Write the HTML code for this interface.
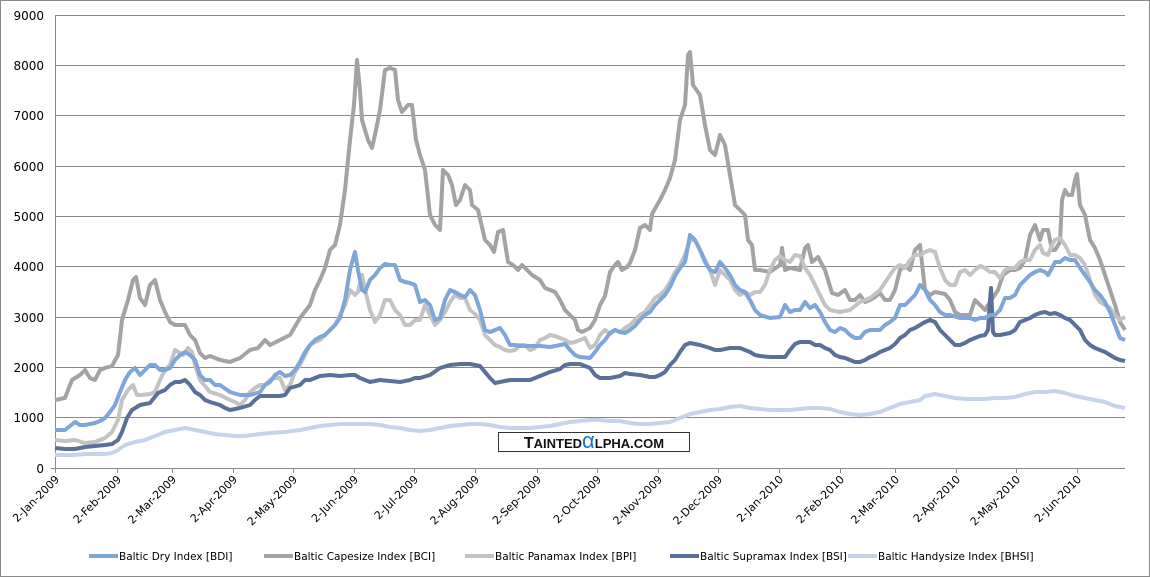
<!DOCTYPE html>
<html><head><meta charset="utf-8"><style>
body{margin:0;background:#fff;}
svg{display:block;font-family:"DejaVu Sans","Liberation Sans",sans-serif;}
</style></head><body>
<svg width="1150" height="577" viewBox="0 0 1150 577">
<rect x="0.5" y="0.5" width="1149" height="576" fill="#fff" stroke="#888"/>
<g stroke="#888" stroke-width="1">
<line x1="55" y1="417.5" x2="1125" y2="417.5"/><line x1="55" y1="367.5" x2="1125" y2="367.5"/>
<line x1="55" y1="317.5" x2="1125" y2="317.5"/><line x1="55" y1="266.5" x2="1125" y2="266.5"/>
<line x1="55" y1="216.5" x2="1125" y2="216.5"/><line x1="55" y1="166.5" x2="1125" y2="166.5"/>
<line x1="55" y1="115.5" x2="1125" y2="115.5"/><line x1="55" y1="65.5" x2="1125" y2="65.5"/>
<line x1="55" y1="15.5" x2="1125" y2="15.5"/>
<line x1="55.5" y1="15" x2="55.5" y2="468"/>
<line x1="51" y1="468.5" x2="1125" y2="468.5"/>
</g>
<g stroke="#888">
<path d="M55.5 468v5M117.5 468v5M172.5 468v5M233.5 468v5M293.5 468v5M354.5 468v5M414.5 468v5M475.5 468v5M537.5 468v5M597.5 468v5M658.5 468v5M718.5 468v5M779.5 468v5M840.5 468v5M895.5 468v5M956.5 468v5M1016.5 468v5M1077.5 468v5"/>
</g>
<g font-size="12" text-anchor="end" fill="#000">
<text x="44" y="473">0</text><text x="44" y="422">1000</text><text x="44" y="372">2000</text>
<text x="44" y="322">3000</text><text x="44" y="271">4000</text><text x="44" y="221">5000</text>
<text x="44" y="171">6000</text><text x="44" y="120">7000</text><text x="44" y="70">8000</text>
<text x="44" y="20">9000</text>
</g>
<g font-size="11" text-anchor="end" fill="#000">
<text transform="translate(60,480) rotate(-45)">2-Jan-2009</text>
<text transform="translate(122,480) rotate(-45)">2-Feb-2009</text>
<text transform="translate(177,480) rotate(-45)">2-Mar-2009</text>
<text transform="translate(238,480) rotate(-45)">2-Apr-2009</text>
<text transform="translate(298,480) rotate(-45)">2-May-2009</text>
<text transform="translate(359,480) rotate(-45)">2-Jun-2009</text>
<text transform="translate(419,480) rotate(-45)">2-Jul-2009</text>
<text transform="translate(480,480) rotate(-45)">2-Aug-2009</text>
<text transform="translate(542,480) rotate(-45)">2-Sep-2009</text>
<text transform="translate(602,480) rotate(-45)">2-Oct-2009</text>
<text transform="translate(663,480) rotate(-45)">2-Nov-2009</text>
<text transform="translate(723,480) rotate(-45)">2-Dec-2009</text>
<text transform="translate(784,480) rotate(-45)">2-Jan-2010</text>
<text transform="translate(845,480) rotate(-45)">2-Feb-2010</text>
<text transform="translate(900,480) rotate(-45)">2-Mar-2010</text>
<text transform="translate(961,480) rotate(-45)">2-Apr-2010</text>
<text transform="translate(1021,480) rotate(-45)">2-May-2010</text>
<text transform="translate(1082,480) rotate(-45)">2-Jun-2010</text>
</g>
<g fill="none" stroke-width="4" stroke-linejoin="round">
<polyline stroke="#c6d4ea" points="55,455 65,455 75,455 85,454 95,454 105,454 112,453 118,450 125,445 135,442 145,440 155,436 165,432 175,430 185,428 195,430 205,432 215,434 225,435 235,436 245,436 260,434 270,433 285,432 300,430 310,428 320,426 330,425 340,424 350,424 360,424 370,424 380,425 390,427 400,428 410,430 420,431 430,430 440,428 450,426 460,425 470,424 480,424 490,425 500,427 510,428 520,428 530,428 540,427 550,426 560,424 570,422 580,421 590,420 600,420 610,421 620,421 630,423 640,424 650,424 660,423 670,422 680,418 690,414 700,412 710,410 720,409 730,407 740,406 750,408 760,409 770,410 780,410 790,410 800,409 810,408 820,408 830,409 840,412 850,414 860,415 870,414 880,412 890,408 900,404 910,402 920,400 925,396 935,394 945,396 955,398 965,399 975,399 985,399 995,398 1005,398 1015,397 1025,394 1035,392 1045,392 1055,391 1065,393 1075,396 1085,398 1095,400 1105,402 1115,406 1125,408"/>
<polyline stroke="#a3a3a3" points="55,400 65,398 72,380 80,375 85,370 90,378 95,380 100,370 105,368 112,366 118,355 122,320 128,300 133,280 136,277 140,298 145,305 150,285 155,280 160,300 165,312 170,322 175,325 185,325 190,335 195,340 200,353 205,358 210,356 220,360 230,362 240,358 250,350 258,348 265,340 270,345 280,340 290,335 300,318 310,305 315,290 320,280 325,268 330,250 335,245 340,225 345,190 350,140 354,105 357,60 360,90 362,120 368,140 372,148 376,130 380,110 385,70 390,68 395,70 398,100 402,112 408,105 412,105 416,140 420,155 425,170 430,215 435,225 440,230 443,170 448,175 452,185 456,205 460,200 465,185 470,190 472,205 478,210 485,240 490,245 494,252 498,232 503,230 508,262 513,265 518,270 522,265 527,270 532,275 540,280 545,288 550,290 555,292 560,300 565,310 570,315 575,320 578,330 582,332 590,328 595,320 600,305 605,296 610,272 615,265 618,262 622,270 627,267 630,263 635,250 640,228 645,225 650,230 652,214 660,200 665,190 670,178 675,160 680,120 685,105 688,55 690,52 693,85 700,95 705,125 710,150 715,155 720,135 725,145 730,175 735,205 740,210 745,215 748,240 752,245 755,270 760,270 770,272 780,265 782,248 785,270 790,268 800,270 805,248 808,245 812,262 818,257 825,270 832,293 838,295 845,290 850,300 855,300 860,295 865,302 870,300 875,297 880,293 885,300 890,300 895,290 900,270 905,266 910,270 915,250 920,245 925,290 930,295 935,292 945,294 950,300 955,312 960,315 970,315 975,300 980,305 985,310 990,302 998,290 1003,275 1010,270 1015,270 1020,268 1025,260 1030,235 1035,225 1040,240 1043,230 1048,230 1052,250 1055,250 1060,242 1062,200 1065,190 1068,195 1072,195 1075,180 1077,174 1080,205 1085,215 1090,240 1095,248 1100,260 1105,275 1110,290 1115,305 1120,322 1125,330"/>
<polyline stroke="#c3c3c3" points="55,440 65,441 75,440 85,443 95,442 105,438 112,432 118,420 122,400 128,390 133,385 137,395 142,395 150,394 155,392 160,380 165,370 170,365 175,350 183,355 188,348 192,352 195,365 200,380 205,386 210,392 220,395 230,400 235,402 240,405 245,400 250,392 255,388 260,385 265,385 270,380 275,378 280,378 285,390 290,385 295,372 300,365 305,355 310,345 315,342 320,340 325,335 330,330 335,325 340,315 345,305 350,290 355,295 358,292 362,275 365,290 370,310 375,322 380,315 385,300 390,300 395,310 400,315 405,325 410,325 415,320 420,320 425,305 430,315 435,325 440,320 445,312 450,302 455,295 460,298 465,298 470,310 475,314 480,320 485,335 490,340 495,345 500,347 505,350 510,351 515,350 520,345 525,345 530,350 535,348 540,340 545,338 550,335 555,336 560,338 565,340 570,343 575,342 580,340 585,338 590,348 595,345 600,335 605,330 610,334 615,330 620,332 625,328 630,325 635,320 640,315 645,312 650,305 655,298 660,295 665,290 670,282 675,272 680,265 685,255 690,240 695,240 700,250 705,260 710,270 715,285 720,270 725,275 730,280 735,290 740,295 745,292 750,295 755,292 760,292 765,285 770,270 775,260 780,256 785,260 790,262 795,255 800,256 805,268 810,275 815,285 820,295 825,305 830,310 840,312 850,310 860,302 870,298 880,290 890,275 895,268 900,265 905,268 910,260 915,255 920,255 925,252 930,250 935,252 940,268 945,280 950,285 955,285 960,272 965,270 970,275 975,270 980,266 985,268 990,272 995,272 1000,278 1005,270 1010,268 1015,268 1020,262 1025,260 1030,260 1035,250 1040,245 1043,253 1048,255 1052,245 1055,240 1060,238 1065,245 1070,255 1075,255 1080,258 1085,265 1090,280 1095,295 1100,302 1105,305 1110,308 1115,315 1120,320 1125,317"/>
<polyline stroke="#5a7099" points="55,448 65,449 75,449 85,447 95,446 105,445 112,444 118,440 122,432 127,418 132,410 140,405 150,403 158,393 165,390 170,385 175,382 180,382 185,380 190,385 195,392 200,395 205,400 210,402 220,405 225,408 230,410 240,408 250,405 255,400 260,396 270,396 280,396 285,395 290,388 300,385 305,380 310,380 315,378 320,376 330,375 340,376 350,375 355,375 360,378 365,380 370,382 380,380 390,381 400,382 410,380 415,378 420,378 430,375 440,368 450,365 460,364 470,364 480,366 485,372 490,378 495,383 500,382 510,380 520,380 530,380 540,376 545,374 550,372 560,369 565,365 570,364 580,364 590,368 595,375 600,378 610,378 620,376 625,373 630,374 640,375 650,377 655,377 660,375 665,372 670,365 675,360 680,352 685,345 690,343 700,345 710,348 715,350 720,350 730,348 740,348 745,350 750,352 755,355 760,356 770,357 780,357 785,357 790,350 795,344 800,342 810,342 815,345 820,345 825,348 830,350 835,355 840,357 845,358 850,360 855,362 860,362 865,360 870,357 875,355 880,352 885,350 890,348 895,344 900,338 905,335 910,330 915,328 920,325 925,322 930,320 935,322 940,330 945,335 950,340 955,345 960,345 965,343 970,340 975,338 980,336 985,335 988,330 990,300 991,288 993,332 995,335 1000,335 1010,333 1015,330 1020,322 1025,320 1030,318 1035,315 1040,313 1045,312 1050,314 1055,313 1060,315 1065,318 1070,320 1075,325 1080,330 1085,340 1090,345 1095,348 1100,350 1105,352 1110,355 1115,358 1120,360 1125,361"/>
<polyline stroke="#7ea6d8" points="55,430 65,430 70,426 75,422 80,425 85,425 90,424 95,423 100,421 105,418 110,412 115,405 120,392 125,380 130,372 135,368 140,375 145,370 150,365 155,365 160,370 165,370 170,368 175,360 180,355 185,352 190,355 195,360 200,375 205,380 210,380 215,385 220,385 230,392 240,395 250,395 260,392 265,385 270,382 275,375 280,372 285,376 290,375 295,370 300,362 305,352 310,345 315,340 320,337 325,335 330,330 335,325 340,318 345,300 350,270 355,252 358,270 362,290 365,292 370,280 375,275 380,268 385,264 390,265 395,265 400,280 405,282 410,283 415,285 420,302 425,300 430,305 435,320 440,318 445,300 450,290 455,292 460,295 465,297 470,290 475,295 480,310 485,330 490,332 495,330 500,328 505,335 510,345 515,345 520,346 530,346 540,346 550,347 560,345 565,344 570,350 575,355 580,357 590,358 595,352 600,345 605,340 610,333 615,330 620,332 625,333 630,330 635,326 640,320 645,315 650,312 655,305 660,300 665,295 670,287 675,276 680,268 685,262 690,235 695,240 700,250 705,262 710,270 715,272 720,262 725,268 730,275 735,285 740,290 745,292 750,300 755,310 760,315 770,318 780,317 785,305 790,312 795,310 800,310 805,302 810,308 815,305 820,312 825,322 830,330 835,332 840,328 845,330 850,335 855,338 860,338 865,332 870,330 875,330 880,330 885,325 890,322 895,318 900,305 905,305 910,300 915,295 920,285 925,290 930,300 935,305 940,312 945,315 950,315 960,318 970,318 975,320 980,318 985,318 990,315 995,315 1000,310 1005,298 1010,298 1015,295 1020,285 1025,280 1030,275 1035,272 1040,270 1045,272 1048,275 1052,268 1055,262 1060,262 1065,258 1070,260 1075,260 1080,268 1085,275 1090,282 1095,290 1100,295 1105,302 1110,312 1115,325 1120,338 1125,340"/>
</g>
<rect x="498.5" y="432.5" width="191" height="19" fill="#fff" stroke="#333"/>
<text x="594" y="448" text-anchor="middle" font-family="Liberation Sans,sans-serif" font-size="16" font-weight="bold" fill="#111">T<tspan font-size="13">AINTED</tspan><tspan fill="#1a73d0" font-size="22" font-weight="normal">α</tspan><tspan font-size="13">LPHA.COM</tspan></text>
<g stroke-width="4">
<line x1="89" y1="556" x2="118" y2="556" stroke="#7ea6d8"/>
<line x1="264" y1="556" x2="293" y2="556" stroke="#a3a3a3"/>
<line x1="465" y1="556" x2="494" y2="556" stroke="#c3c3c3"/>
<line x1="670" y1="556" x2="699" y2="556" stroke="#5a7099"/>
<line x1="848" y1="556" x2="877" y2="556" stroke="#c6d4ea"/>
</g>
<g font-size="10.5" fill="#000">
<text x="119" y="560">Baltic Dry Index [BDI]</text>
<text x="294" y="560">Baltic Capesize Index [BCI]</text>
<text x="495" y="560">Baltic Panamax Index [BPI]</text>
<text x="700" y="560">Baltic Supramax Index [BSI]</text>
<text x="878" y="560">Baltic Handysize Index [BHSI]</text>
</g>
</svg>
</body></html>
